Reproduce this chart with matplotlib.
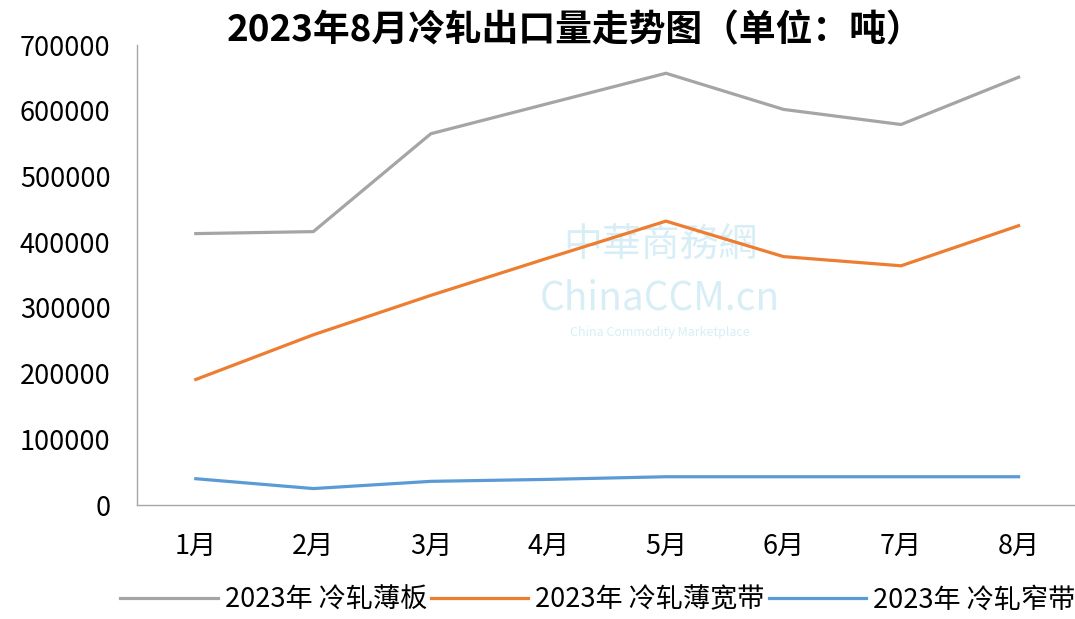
import matplotlib
matplotlib.use('Agg')
import matplotlib.pyplot as plt

plt.rcParams['font.family'] = ['Noto Sans CJK SC', 'DejaVu Sans']

# data (unit: ton)
months = ['1月', '2月', '3月', '4月', '5月', '6月', '7月', '8月']
sheet = [413000, 416000, 565000, 611000, 657000, 602000, 579000, 651000]
wide_strip = [191000, 259000, 319000, 376000, 432000, 378000, 364000, 425000]
narrow_strip = [40000, 25000, 36000, 39000, 43000, 43000, 43000, 43000]
series_names = ['2023年 冷轧薄板', '2023年 冷轧薄宽带', '2023年 冷轧窄带']

fig = plt.figure(figsize=(10.75, 6.19), dpi=100)
ax = fig.add_axes([137/1075, 1-505/619, (1075-137)/1075, (505-45)/619])

x = range(len(months))
ax.plot(x, sheet, color='#a5a5a5', lw=2.3, label=series_names[0])
ax.plot(x, wide_strip, color='#ed7d31', lw=2.3, label=series_names[1])
ax.plot(x, narrow_strip, color='#5b9bd5', lw=2.3, label=series_names[2])

ax.set_xlim(-0.5, 7.48)
ax.set_ylim(0, 700000)
ax.set_yticks(range(0, 700001, 100000))
ax.set_xticks(list(x))
ax.set_xticklabels(months)
ax.tick_params(axis='both', length=0, labelsize=19.5, colors='black')
ax.tick_params(axis='y', pad=19)
ax.tick_params(axis='x', pad=20)
for s in ['top', 'right']:
    ax.spines[s].set_visible(False)
for s in ['left', 'bottom']:
    ax.spines[s].set_color('#a6a6a6')
    ax.spines[s].set_linewidth(1)

# faint watermark
ax.text(3.95, 395000, '中華商務網', fontsize=28, color='#8fd0e6', alpha=0.35,
        ha='center', va='center', zorder=0)
ax.text(3.95, 315000, 'ChinaCCM.cn', fontsize=28, color='#8fd0e6', alpha=0.35,
        ha='center', va='center', zorder=0)
ax.text(3.95, 262000, 'China Commodity Marketplace', fontsize=9, color='#8fd0e6',
        alpha=0.35, ha='center', va='center', zorder=0)

fig.text(0.535, 0.95, '2023年8月冷轧出口量走势图（单位：吨）', fontsize=26.5,
         fontweight='bold', ha='center', va='center')

fig.legend(loc='center', bbox_to_anchor=(0.556, 1-600/619), ncol=3,
           frameon=False, fontsize=19.5, handlelength=3.6, handletextpad=0.25,
           columnspacing=0.15)

fig.savefig('out.png', dpi=100)
